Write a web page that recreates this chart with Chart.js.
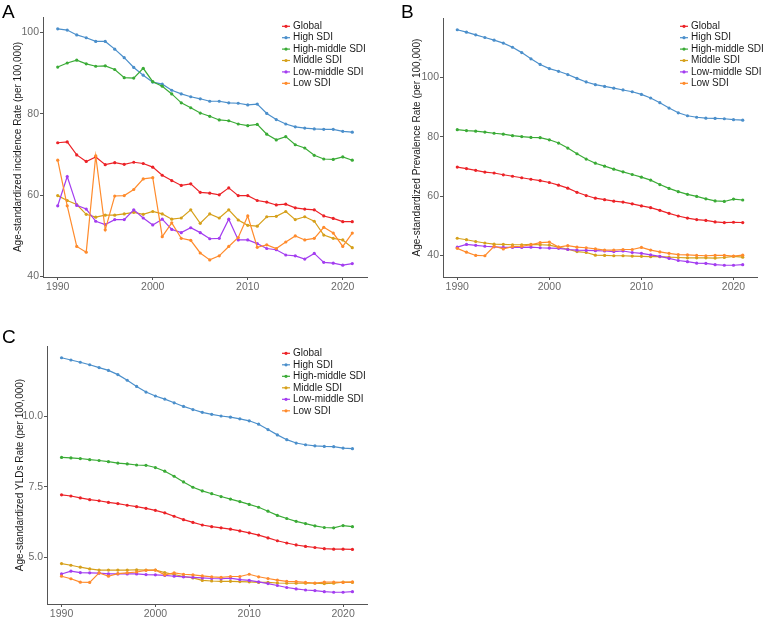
<!DOCTYPE html>
<html>
<head>
<meta charset="utf-8">
<script src="https://cdn.jsdelivr.net/npm/chart.js@4.4.1/dist/chart.umd.min.js"></script>
<style>
  html, body { margin: 0; padding: 0; background: #fff; }
  body { width: 767px; height: 617px; position: relative; overflow: hidden; }
  .panel { position: absolute; }
  .panel canvas { display: block; }
  .letter { position: absolute; font-family: "Liberation Sans", Arial, sans-serif; font-size: 19px; line-height: 1; color: #000; }
</style>
</head>
<body>
<div class="panel" style="left:0;top:0;"><canvas id="chartA" width="383" height="298"></canvas></div>
<div class="panel" style="left:383px;top:0;"><canvas id="chartB" width="384" height="298"></canvas></div>
<div class="panel" style="left:0;top:300px;"><canvas id="chartC" width="383" height="317"></canvas></div>
<div class="letter" style="left:2px;top:2px;">A</div>
<div class="letter" style="left:401px;top:2px;">B</div>
<div class="letter" style="left:2px;top:327px;">C</div>

<script>
// years and tick labels
const years = [1990, 1991, 1992, 1993, 1994, 1995, 1996, 1997, 1998, 1999,
               2000, 2001, 2002, 2003, 2004, 2005, 2006, 2007, 2008, 2009,
               2010, 2011, 2012, 2013, 2014, 2015, 2016, 2017, 2018, 2019,
               2020, 2021];
const xTicks = [1990, 2000, 2010, 2020];
const seriesNames = ["Global", "High SDI", "High-middle SDI", "Middle SDI", "Low-middle SDI", "Low SDI"];

// A - incidence
const incGlobal = [72.9, 73.1, 69.9, 68.3, 69.4, 67.5, 68.0, 67.6, 68.1, 67.8, 66.9, 64.9, 63.6, 62.4, 62.8, 60.7,
                   60.5, 60.1, 61.8, 59.9, 59.9, 58.7, 58.3, 57.6, 57.8, 56.9, 56.6, 56.4, 54.9, 54.3, 53.5, 53.5];
const incHigh = [100.9, 100.6, 99.4, 98.7, 97.8, 97.8, 95.9, 93.8, 91.4, 89.5, 87.8, 87.3, 85.8, 84.9, 84.2, 83.7,
                 83.1, 83.1, 82.7, 82.6, 82.2, 82.4, 80.1, 78.6, 77.5, 76.8, 76.5, 76.3, 76.2, 76.2, 75.7, 75.5];
const incHighMid = [91.5, 92.5, 93.2, 92.3, 91.7, 91.8, 90.9, 88.9, 88.8, 91.2, 87.9, 86.8, 84.9, 82.7, 81.5, 80.2,
                    79.4, 78.5, 78.3, 77.5, 77.1, 77.4, 75.0, 73.6, 74.4, 72.4, 71.6, 69.8, 68.9, 68.8, 69.4, 68.6];
const incMid = [59.9, 58.7, 57.7, 55.3, 54.6, 55.1, 55.1, 55.4, 55.8, 55.3, 56.0, 55.4, 54.1, 54.4, 56.4, 53.1,
                55.4, 54.4, 56.4, 53.9, 52.6, 52.4, 54.7, 54.8, 56.0, 54.0, 54.7, 53.6, 50.2, 49.4, 49.0, 47.1];
const incLowMid = [57.4, 64.6, 57.5, 56.6, 53.6, 52.8, 54.0, 54.0, 56.4, 54.4, 52.7, 54.1, 51.6, 50.8, 52.0, 50.8,
                   49.3, 49.4, 54.1, 49.0, 49.0, 48.1, 46.9, 46.6, 45.3, 45.1, 44.3, 45.7, 43.5, 43.3, 42.8, 43.2];
const incLow = [68.6, 57.4, 47.4, 46.0, 69.7, 51.5, 59.8, 59.9, 61.4, 64.0, 64.3, 49.8, 53.2, 49.4, 48.9, 45.8,
                44.1, 45.1, 47.4, 49.6, 54.9, 47.2, 47.8, 46.9, 48.5, 50.0, 49.0, 49.4, 52.1, 50.7, 47.4, 50.7];

// B - prevalence
const prevGlobal = [69.8, 69.3, 68.7, 68.1, 67.8, 67.2, 66.7, 66.2, 65.7, 65.2, 64.6, 63.7, 62.7, 61.3, 60.2, 59.3,
                    58.8, 58.3, 58.0, 57.4, 56.7, 56.1, 55.2, 54.2, 53.3, 52.6, 52.1, 51.8, 51.3, 51.1, 51.2, 51.1];
const prevHigh = [116.1, 115.3, 114.4, 113.5, 112.6, 111.6, 110.2, 108.4, 106.3, 104.4, 103.0, 102.1, 101.0, 99.7, 98.5, 97.6,
                  97.0, 96.4, 95.8, 95.2, 94.3, 93.1, 91.5, 89.7, 88.1, 87.1, 86.6, 86.3, 86.2, 86.1, 85.8, 85.6];
const prevHighMid = [82.4, 82.1, 81.9, 81.6, 81.2, 80.9, 80.4, 80.1, 79.8, 79.7, 79.0, 77.9, 76.2, 74.3, 72.5, 71.1,
                     70.1, 69.1, 68.2, 67.3, 66.4, 65.4, 63.9, 62.6, 61.5, 60.6, 59.9, 59.1, 58.4, 58.2, 59.0, 58.7];
const prevMid = [45.8, 45.3, 44.7, 44.2, 43.8, 43.7, 43.6, 43.6, 43.7, 43.6, 43.5, 42.8, 42.1, 41.3, 41.0, 40.1,
                 40.0, 39.9, 39.9, 39.8, 39.7, 39.6, 39.6, 39.4, 39.3, 39.2, 39.2, 39.2, 39.1, 39.3, 39.7, 39.4];
const prevLowMid = [42.8, 43.7, 43.4, 43.1, 42.9, 42.7, 42.7, 42.7, 42.8, 42.6, 42.5, 42.4, 42.0, 41.8, 41.7, 41.6,
                    41.5, 41.3, 41.5, 41.0, 40.7, 40.2, 39.7, 39.0, 38.3, 37.9, 37.4, 37.3, 36.9, 36.7, 36.7, 36.9];
const prevLow = [42.4, 41.1, 40.0, 39.9, 43.1, 42.2, 43.0, 43.1, 43.6, 44.3, 44.5, 42.8, 43.3, 42.8, 42.6, 42.2,
                 41.8, 41.8, 42.0, 42.0, 42.7, 41.8, 41.2, 40.7, 40.3, 40.2, 40.0, 39.9, 40.0, 40.0, 39.8, 40.1];

// C - YLDs
const yldGlobal = [7.22, 7.18, 7.11, 7.05, 7.01, 6.95, 6.91, 6.85, 6.80, 6.74, 6.67, 6.58, 6.46, 6.34, 6.24, 6.15,
                   6.09, 6.05, 6.00, 5.94, 5.87, 5.79, 5.69, 5.59, 5.51, 5.44, 5.39, 5.35, 5.31, 5.29, 5.29, 5.28];
const yldHigh = [12.09, 12.01, 11.93, 11.84, 11.74, 11.64, 11.49, 11.29, 11.07, 10.87, 10.73, 10.62, 10.49, 10.36, 10.25, 10.15,
                 10.08, 10.02, 9.98, 9.92, 9.85, 9.73, 9.54, 9.35, 9.18, 9.06, 9.00, 8.96, 8.94, 8.93, 8.88, 8.86];
const yldHighMid = [8.55, 8.53, 8.51, 8.47, 8.44, 8.40, 8.35, 8.32, 8.28, 8.27, 8.19, 8.06, 7.88, 7.68, 7.49, 7.36,
                    7.26, 7.16, 7.07, 6.98, 6.88, 6.78, 6.64, 6.49, 6.38, 6.28, 6.20, 6.12, 6.06, 6.05, 6.13, 6.09];
const yldMid = [4.78, 4.72, 4.65, 4.59, 4.55, 4.55, 4.55, 4.55, 4.56, 4.55, 4.55, 4.46, 4.39, 4.32, 4.27, 4.18,
                4.16, 4.15, 4.15, 4.14, 4.13, 4.11, 4.11, 4.09, 4.08, 4.08, 4.08, 4.08, 4.07, 4.08, 4.12, 4.11];
const yldLowMid = [4.41, 4.51, 4.46, 4.45, 4.44, 4.41, 4.41, 4.41, 4.41, 4.39, 4.38, 4.36, 4.33, 4.31, 4.29, 4.27,
                   4.25, 4.24, 4.26, 4.21, 4.18, 4.13, 4.07, 4.00, 3.93, 3.88, 3.84, 3.82, 3.78, 3.76, 3.76, 3.78];
const yldLow = [4.33, 4.24, 4.12, 4.11, 4.45, 4.33, 4.42, 4.45, 4.48, 4.54, 4.55, 4.38, 4.45, 4.40, 4.38, 4.34,
                4.31, 4.29, 4.32, 4.32, 4.40, 4.31, 4.25, 4.19, 4.15, 4.14, 4.11, 4.09, 4.12, 4.12, 4.11, 4.13];

const yTicksA = [40, 60, 80, 100];
const yTicksB = [40, 60, 80, 100];
const yTicksC = [5.0, 7.5, 10.0];

const colors = ["#ec2227", "#4b8fcb", "#3aab36", "#d6a01b", "#a33df0", "#ff8b2c"];
const FONT = "'Liberation Sans', Arial, Helvetica, sans-serif";
Chart.defaults.font.family = FONT;

// legend drawn inside the plot, ggplot style
const insetLegend = {
  id: "insetLegend",
  afterDraw(chart, args, opts) {
    const ctx = chart.ctx;
    ctx.save();
    ctx.font = "10px " + FONT;
    ctx.textBaseline = "middle";
    ctx.textAlign = "left";
    chart.data.datasets.forEach((ds, i) => {
      const y = opts.y + i * opts.step;
      ctx.strokeStyle = ds.borderColor;
      ctx.lineWidth = 1.2;
      ctx.beginPath();
      ctx.moveTo(opts.x, y);
      ctx.lineTo(opts.x + 8, y);
      ctx.stroke();
      ctx.fillStyle = ds.borderColor;
      ctx.beginPath();
      ctx.arc(opts.x + 4, y, 1.6, 0, Math.PI * 2);
      ctx.fill();
      ctx.fillStyle = "#1a1a1a";
      ctx.fillText(ds.label, opts.x + 11, y);
    });
    ctx.restore();
  }
};

function expand(allSeries) {
  const vals = allSeries.flat();
  const lo = Math.min(...vals), hi = Math.max(...vals);
  const pad = (hi - lo) * 0.05;
  return [lo - pad, hi + pad];
}

function drawPanel(id, series, yTicks, yTitle, yFmt, lay) {
  const [ymin, ymax] = expand(series);
  const datasets = series.map((vals, i) => ({
    label: seriesNames[i],
    data: years.map((yr, k) => ({ x: yr, y: vals[k] })),
    borderColor: colors[i],
    backgroundColor: colors[i],
    borderWidth: 1.2,
    pointRadius: 1.6,
    pointBorderWidth: 0,
    tension: 0
  }));
  // draw Global on top like the reference order reversed
  datasets.reverse();
  const legendOrder = datasets.slice().reverse();

  new Chart(document.getElementById(id), {
    type: "line",
    data: { datasets: datasets },
    options: {
      responsive: false,
      animation: false,
      devicePixelRatio: 1,
      layout: { padding: { left: lay.padLeft, right: lay.padRight, top: lay.padTop, bottom: 0 } },
      plugins: {
        legend: { display: false },
        tooltip: { enabled: false },
        insetLegend: lay.legend
      },
      scales: {
        x: {
          type: "linear",
          min: 1988.45,
          max: 2022.55,
          afterBuildTicks: s => { s.ticks = xTicks.map(v => ({ value: v })); },
          afterFit: s => { s.height = lay.xHeight; },
          grid: { drawOnChartArea: false, drawTicks: true, tickLength: 3, color: "#555" },
          border: { display: true, color: "#555", width: 1 },
          ticks: { color: "#6a6a6a", font: { size: 10.5 }, padding: 1, maxRotation: 0, autoSkip: false,
                   callback: v => String(v) }
        },
        y: {
          min: ymin,
          max: ymax,
          afterBuildTicks: s => { s.ticks = yTicks.map(v => ({ value: v })); },
          afterFit: s => { s.width = lay.yWidth; },
          grid: { drawOnChartArea: false, drawTicks: true, tickLength: 3, color: "#555" },
          border: { display: true, color: "#555", width: 1 },
          ticks: { color: "#6a6a6a", font: { size: 10.5 }, padding: 1, autoSkip: false, callback: yFmt },
          title: { display: true, text: yTitle, color: "#1a1a1a", font: { size: 10 },
                   padding: { top: lay.titlePad, bottom: 0 } }
        }
      }
    },
    plugins: [{
      id: "legendData",
      afterDraw(chart) {}
    }, {
      id: "insetLegend",
      afterDraw(chart, args, opts) {
        // legend listed in original order
        const fake = { ctx: chart.ctx, data: { datasets: legendOrder } };
        insetLegend.afterDraw(fake, args, opts);
      }
    }]
  });
}

drawPanel("chartA", [incGlobal, incHigh, incHighMid, incMid, incLowMid, incLow], yTicksA,
  "Age-standardized incidence Rate (per 100,000)", v => String(v),
  { padLeft: 0, padRight: 16, padTop: 17, xHeight: 21, yWidth: 43, titlePad: 12,
    legend: { x: 282, y: 26.3, step: 11.4 } });

drawPanel("chartB", [prevGlobal, prevHigh, prevHighMid, prevMid, prevLowMid, prevLow], yTicksB,
  "Age-standardized Prevalence Rate (per 100,000)", v => String(v),
  { padLeft: 20, padRight: 10, padTop: 18, xHeight: 21, yWidth: 40, titlePad: 8,
    legend: { x: 297, y: 26.3, step: 11.4 } });

drawPanel("chartC", [yldGlobal, yldHigh, yldHighMid, yldMid, yldLowMid, yldLow], yTicksC,
  "Age-standardized YLDs Rate (per 100,000)", v => Number(v).toFixed(1),
  { padLeft: 0, padRight: 16, padTop: 46, xHeight: 13, yWidth: 47, titlePad: 14,
    legend: { x: 282, y: 53.3, step: 11.5 } });
</script>
</body>
</html>
